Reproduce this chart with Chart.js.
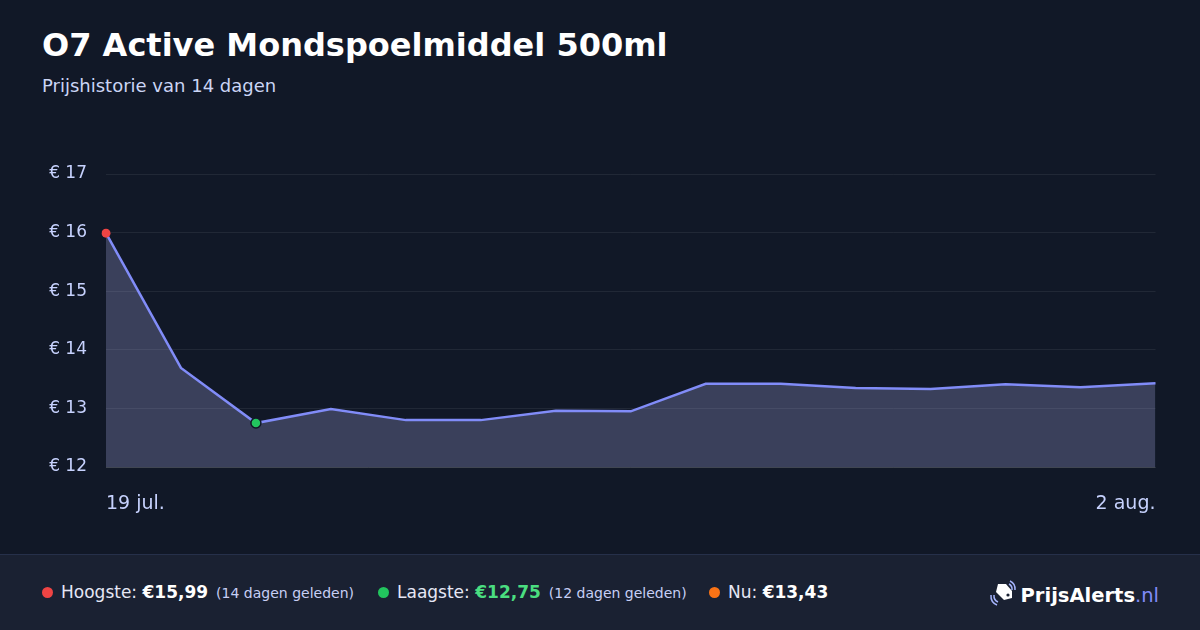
<!DOCTYPE html>
<html>
<head>
<meta charset="utf-8">
<script src="https://cdn.jsdelivr.net/npm/chart.js@4/dist/chart.umd.min.js"></script>
<style>
  html, body { margin: 0; padding: 0; }
  body {
    width: 1200px; height: 630px; overflow: hidden; position: relative;
    background: #111827; font-family: "DejaVu Sans", sans-serif; color: #fff;
  }
  .title { position: absolute; left: 42px; top: 26px; font-size: 32px; font-weight: bold; }
  .subtitle { position: absolute; left: 42px; top: 75px; font-size: 18px; color: #cbd5f5; }
  .chart-box { position: absolute; left: 30px; top: 160px; width: 1130px; height: 357px; }
  .footer {
    position: absolute; left: 0; top: 554px; width: 1200px; height: 76px;
    background: #1a2132; border-top: 1px solid #26304a; box-sizing: border-box;
  }
  .stat { position: absolute; top: 27px; font-size: 17px; color: #e5e7f5; white-space: nowrap; }
  .dot { display: inline-block; width: 11px; height: 11px; border-radius: 50%; margin-right: 8px; vertical-align: 0px; }
  .stat b { color: #fff; }
  .stat small { font-size: 14px; color: #c7cff5; margin-left: 8px; }
  .logo { position: absolute; right: 41px; top: 23px; font-size: 19.5px; font-weight: bold; color: #fff; white-space: nowrap; }
  .logo span { color: #818cf8; font-weight: normal; }
  .logo svg { vertical-align: -6px; margin-right: 4px; }
</style>
</head>
<body>
<div class="title">O7 Active Mondspoelmiddel 500ml</div>
<div class="subtitle">Prijshistorie van 14 dagen</div>
<div class="chart-box"><canvas id="chart" aria-label="Prijshistorie" role="img"></canvas></div>
<div class="footer">
  <div class="stat" style="left:42px"><span class="dot" style="background:#ef4444"></span>Hoogste: <b>€15,99</b><small>(14 dagen geleden)</small></div>
  <div class="stat" style="left:378px"><span class="dot" style="background:#22c55e"></span>Laagste: <b style="color:#4ade80">€12,75</b><small>(12 dagen geleden)</small></div>
  <div class="stat" style="left:709px"><span class="dot" style="background:#f97316"></span>Nu: <b>€13,43</b></div>
  <div class="logo">
    <svg width="28" height="30" viewBox="0 0 28 30">
      <path d="M9 6 L17 6 L23 13 L23 20 L15 22 L7 14 Z" fill="#fff"/>
      <circle cx="19" cy="17" r="1.6" fill="#1a2132"/>
      <path d="M21 3 A9 9 0 0 1 26 12" stroke="#a5b4fc" stroke-width="1.5" fill="none"/>
      <path d="M20 6 A6 6 0 0 1 23 12" stroke="#a5b4fc" stroke-width="1.5" fill="none"/>
      <path d="M2 17 A10 10 0 0 0 8 27" stroke="#a5b4fc" stroke-width="1.5" fill="none"/>
      <path d="M5 17 A7 7 0 0 0 9 24" stroke="#a5b4fc" stroke-width="1.5" fill="none"/>
    </svg>PrijsAlerts<span>.nl</span>
  </div>
</div>
<script>
  // price history, 19 jul. .. 2 aug.
  const dates = ['19 jul.', '20 jul.', '21 jul.', '22 jul.', '23 jul.', '24 jul.', '25 jul.', '26 jul.',
    '27 jul.', '28 jul.', '29 jul.', '30 jul.', '31 jul.', '1 aug.', '2 aug.'];
  const prices = [15.99, 13.69, 12.75, 12.99, 12.80, 12.80, 12.96, 12.95,
    13.42, 13.42, 13.35, 13.33, 13.41, 13.36, 13.43];
  const yTicks = [12, 13, 14, 15, 16, 17];

  const maxIdx = prices.indexOf(Math.max(...prices));
  const minIdx = prices.indexOf(Math.min(...prices));

  const ctx = document.getElementById('chart');
  new Chart(ctx, {
    type: 'line',
    data: {
      labels: dates,
      datasets: [{
        data: prices,
        borderColor: '#818cf8',
        borderWidth: 2.5,
        backgroundColor: 'rgba(165,170,225,0.28)',
        fill: 'start',
        tension: 0,
        pointRadius: (c) => (c.dataIndex === maxIdx ? 4.5 : c.dataIndex === minIdx ? 5 : 0),
        pointBackgroundColor: (c) => (c.dataIndex === maxIdx ? '#ef4444' : '#22c55e'),
        pointBorderColor: '#111827',
        pointBorderWidth: (c) => (c.dataIndex === minIdx ? 1.5 : 0),
        pointHoverRadius: 0,
      }],
    },
    options: {
      responsive: true,
      maintainAspectRatio: false,
      animation: false,
      layout: { padding: { top: 14, right: 0, bottom: 0, left: 0 } },
      plugins: { legend: { display: false }, tooltip: { enabled: false } },
      scales: {
        x: {
          grid: { display: false },
          border: { display: false },
          afterFit: (axis) => { axis.height = 50; axis.paddingLeft = 0; axis.paddingRight = 0; },
          ticks: {
            color: '#c7d2fe',
            font: { family: 'DejaVu Sans', size: 19 },
            padding: 18,
            maxRotation: 0,
            autoSkip: false,
            align: 'inner',
            callback: (v, i) => (i === 0 || i === dates.length - 1 ? dates[i] : ''),
          },
        },
        y: {
          min: yTicks[0],
          max: yTicks[yTicks.length - 1],
          afterBuildTicks: (axis) => { axis.ticks = yTicks.map((v) => ({ value: v })); },
          afterFit: (axis) => { axis.width = 76; axis.paddingTop = 0; axis.paddingBottom = 0; },
          grid: {
            color: (c) => (c.tick && c.tick.value === yTicks[0] ? 'rgba(255,255,255,0.2)' : 'rgba(255,255,255,0.07)'),
            drawTicks: false,
          },
          border: { display: false },
          ticks: {
            color: '#c7d2fe',
            font: { family: 'DejaVu Sans', size: 17 },
            padding: 19,
            callback: (v) => '€ ' + v,
          },
        },
      },
    },
  });
</script>
</body>
</html>
